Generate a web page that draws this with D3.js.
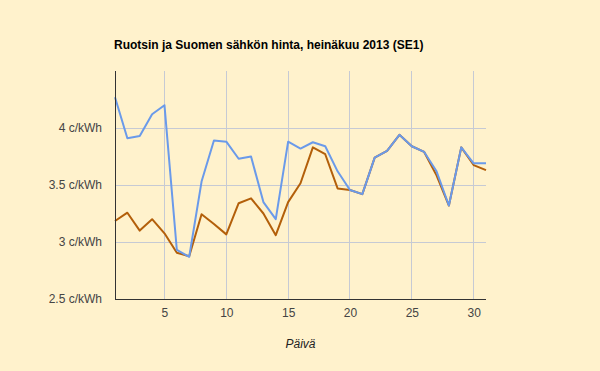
<!DOCTYPE html>
<html>
<head>
<meta charset="utf-8">
<script src="https://cdn.jsdelivr.net/npm/d3@7"></script>
<style>
  body { margin: 0; background: #fff2cc; }
  svg { display: block; }
</style>
</head>
<body>
<div id="chart-area"></div>
<script>
// päivät 1..31, hinnat c/kWh
const days = [1,2,3,4,5,6,7,8,9,10,11,12,13,14,15,16,17,18,19,20,21,22,23,24,25,26,27,28,29,30,31];
const se1 = [4.27,3.91,3.93,4.12,4.20,2.93,2.87,3.53,3.89,3.88,3.73,3.75,3.35,3.20,3.88,3.82,3.875,3.84,3.62,3.456,3.42,3.74,3.80,3.94,3.84,3.79,3.62,3.32,3.83,3.69,3.69];
const fi  = [3.184,3.257,3.10,3.20,3.076,2.906,2.875,3.243,3.158,3.067,3.34,3.383,3.25,3.06,3.35,3.515,3.83,3.77,3.47,3.456,3.42,3.74,3.80,3.94,3.84,3.79,3.585,3.32,3.83,3.675,3.63];
const xTicks = [5,10,15,20,25,30];
const yTicks = [2.5,3,3.5,4];

const W = 600, H = 371;
const margin = {top: 71, right: 114, bottom: 72, left: 115};
const width = W - margin.left - margin.right;
const height = H - margin.top - margin.bottom;

const svg = d3.select('#chart-area')
              .append('svg')
              .attr('width', W)
              .attr('height', H);

svg.append('rect').attr('width', W).attr('height', H).attr('fill', '#fff2cc');

svg.append('text')
   .attr('x', 114)
   .attr('y', 49)
   .attr('font-family', 'Arial, "Liberation Sans", sans-serif')
   .attr('font-size', 12)
   .attr('font-weight', 'bold')
   .attr('fill', '#000')
   .text('Ruotsin ja Suomen sähkön hinta, heinäkuu 2013 (SE1)');

const g = svg.append('g').attr('transform', `translate(${margin.left}, ${margin.top})`);

//scales
const x_s = d3.scaleLinear().domain([1, 31]).range([0, width]);
const y_s = d3.scaleLinear().domain([2.5, 4.5]).range([height, 0]);

//gridlines
g.append('g')
 .selectAll('line')
 .data(xTicks)
 .join('line')
 .attr('x1', d => x_s(d)).attr('x2', d => x_s(d))
 .attr('y1', 0).attr('y2', height)
 .attr('stroke', '#c6cad4').attr('stroke-width', 1)
 .attr('shape-rendering', 'crispEdges');

g.append('g')
 .selectAll('line')
 .data(yTicks.filter(d => d > 2.5))
 .join('line')
 .attr('x1', 0).attr('x2', width)
 .attr('y1', d => y_s(d)).attr('y2', d => y_s(d))
 .attr('stroke', '#c6cad4').attr('stroke-width', 1)
 .attr('shape-rendering', 'crispEdges');

//axes
const xAxis = d3.axisBottom(x_s).tickValues(xTicks).tickSize(0).tickPadding(9).tickFormat(d3.format('d'));
const gx = g.append('g')
            .attr('transform', `translate(0, ${height})`)
            .call(xAxis);
gx.select('.domain').remove();

const yAxis = d3.axisLeft(y_s).tickValues(yTicks).tickSize(0).tickPadding(13).tickFormat(d => d + ' c/kWh');
const gy = g.append('g').call(yAxis);
gy.select('.domain').remove();

svg.selectAll('.tick text')
   .attr('font-family', 'Arial, "Liberation Sans", sans-serif')
   .attr('font-size', 12)
   .attr('fill', '#444');

//lines
const line = data => d3.line()
                       .x((d, i) => x_s(days[i]))
                       .y(d => y_s(d))(data);

g.append('path')
 .attr('d', line(fi))
 .attr('fill', 'none')
 .attr('stroke', '#b35f0a')
 .attr('stroke-width', 2)
 .attr('stroke-linejoin', 'round');

g.append('path')
 .attr('d', line(se1))
 .attr('fill', 'none')
 .attr('stroke', '#6a9aea')
 .attr('stroke-width', 2)
 .attr('stroke-linejoin', 'round');

// axis lines on top
g.append('line')
 .attr('x1', 0).attr('x2', 0).attr('y1', 0).attr('y2', height)
 .attr('stroke', '#333').attr('stroke-width', 1).attr('shape-rendering', 'crispEdges');
g.append('line')
 .attr('x1', 0).attr('x2', width).attr('y1', height).attr('y2', height)
 .attr('stroke', '#333').attr('stroke-width', 1).attr('shape-rendering', 'crispEdges');

svg.append('text')
   .attr('x', margin.left + width / 2)
   .attr('y', 348)
   .attr('text-anchor', 'middle')
   .attr('font-family', 'Arial, "Liberation Sans", sans-serif')
   .attr('font-size', 12)
   .attr('font-style', 'italic')
   .attr('fill', '#222')
   .text('Päivä');
</script>
</body>
</html>
